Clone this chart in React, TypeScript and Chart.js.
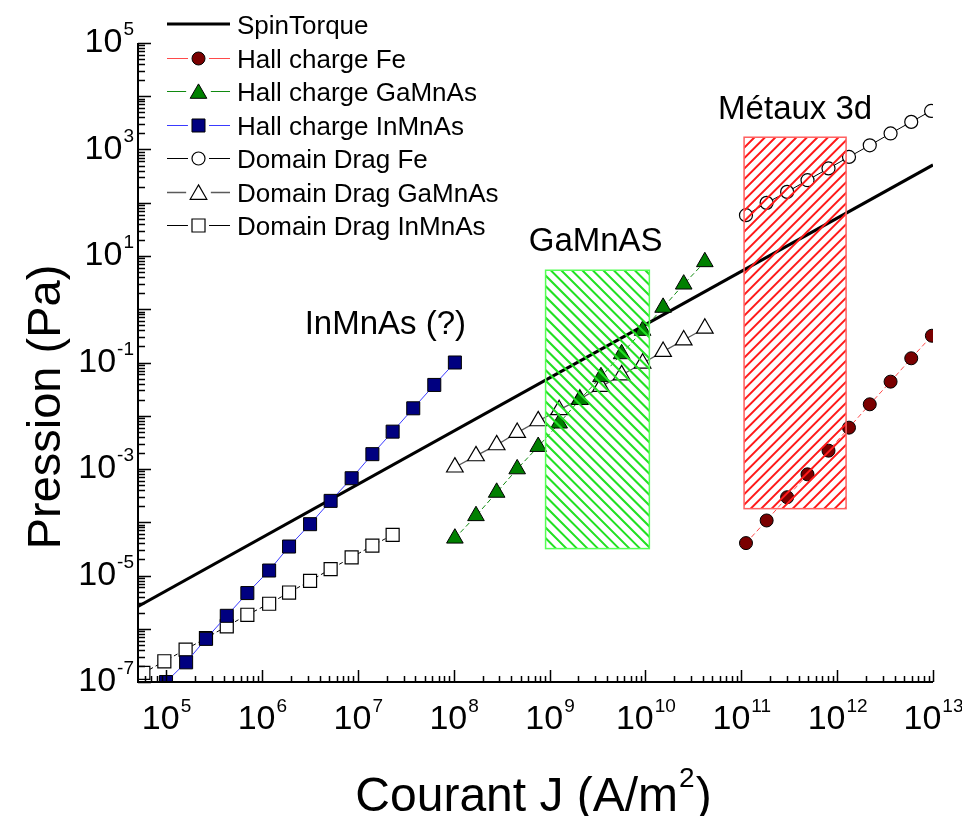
import React, { useEffect, useRef } from 'react';
import { Chart, registerables } from 'chart.js';

Chart.register(...registerables);

// ---------- data ----------
const spinTorqueJ = [5.1e4, 1e13];
const spinTorqueP = [2.62e-6, 513];

const hallFeJ = [1.12e11, 1.84e11, 3.01e11, 4.91e11, 8.13e11, 1.33e12, 2.19e12, 3.61e12, 5.93e12, 9.73e12];
const hallFeP = [4.06e-5, 1.08e-4, 2.95e-4, 7.94e-4, 2.21e-3, 5.98e-3, 1.64e-2, 4.37e-2, 0.12, 0.318];

const hallGaJ = [1.03e8, 1.71e8, 2.81e8, 4.6e8, 7.62e8, 1.26e9, 2.07e9, 3.44e9, 5.65e9, 9.35e9, 1.53e10, 2.51e10, 4.17e10];
const hallGaP = [5.0e-5, 1.32e-4, 3.63e-4, 1.0e-3, 2.63e-3, 7.24e-3, 2.0e-2, 5.37e-2, 0.145, 0.398, 1.08, 2.95, 7.76];

const hallInJ = [1e5, 1.62e5, 2.61e5, 4.3e5, 7.05e5, 1.19e6, 1.92e6, 3.18e6, 5.21e6, 8.63e6, 1.42e7, 2.31e7, 3.79e7, 6.28e7, 1.03e8];
const hallInP = [1e-7, 2.34e-7, 6.46e-7, 1.75e-6, 4.68e-6, 1.24e-5, 3.5e-5, 9.2e-5, 2.52e-4, 6.71e-4, 1.9e-3, 5.03e-3, 1.38e-2, 3.79e-2, 0.1];

const ddFeJ = [1.12e11, 1.84e11, 3.01e11, 4.91e11, 8.13e11, 1.33e12, 2.19e12, 3.61e12, 5.93e12, 9.55e12];
const ddFeP = [58.5, 99.5, 160, 265, 441, 726, 1200, 2000, 3300, 5300];

const ddGaJ = [1.03e8, 1.71e8, 2.81e8, 4.6e8, 7.62e8, 1.26e9, 2.07e9, 3.44e9, 5.65e9, 9.35e9, 1.53e10, 2.51e10, 4.17e10];
const ddGaP = [1.08e-3, 1.76e-3, 2.83e-3, 4.82e-3, 7.98e-3, 1.29e-2, 2.04e-2, 3.52e-2, 5.83e-2, 9.66e-2, 0.16, 0.264, 0.439];

const ddInJ = [5.8e4, 9.6e4, 1.6e5, 2.61e5, 4.3e5, 7.05e5, 1.19e6, 1.92e6, 3.18e6, 5.21e6, 8.63e6, 1.42e7, 2.31e7];
const ddInP = [1.48e-7, 2.45e-7, 4.07e-7, 6.68e-7, 1.11e-6, 1.83e-6, 2.95e-6, 4.79e-6, 7.94e-6, 1.32e-5, 2.19e-5, 3.63e-5, 5.81e-5];

const xMin = 5.1e4;
const xMax = 1e13;
const yMin = 1e-7;
const yMax = 1e5;
const xTickExponents = [5, 6, 7, 8, 9, 10, 11, 12, 13];
const yTickExponents = [5, 3, 1, -1, -3, -5, -7];

const greenBoxJ = [9.1e8, 1.1e10];
const greenBoxP = [3.2e-5, 5.4];
const redBoxJ = [1.07e11, 1.24e12];
const redBoxP = [1.8e-4, 1.7e3];

const annotationTexts = ['InMnAs (?)', 'GaMnAS', 'Métaux 3d'];
const annotationJ = [1.94e7, 3.03e9, 3.65e11];
const annotationP = [0.5, 18.2, 5460];

const legendLabels = [
  'SpinTorque',
  'Hall charge Fe',
  'Hall charge GaMnAs',
  'Hall charge InMnAs',
  'Domain Drag Fe',
  'Domain Drag GaMnAs',
  'Domain Drag InMnAs',
];

const xTitle = 'Courant J (A/m';
const xTitleSup = '2';
const yTitle = 'Pression (Pa)';

const FONT = '"Liberation Sans", Arial, sans-serif';

function pts(xs: number[], ys: number[]) {
  return xs.map((x, i) => ({ x, y: ys[i] }));
}

type Style = {
  line: string;
  lineWidth: number;
  dash: number[];
  marker: string | null;
  radius: number;
  fill: string;
  edge: string;
  edgeWidth: number;
};

const styles: Style[] = [
  { line: '#000000', lineWidth: 3, dash: [], marker: null, radius: 0, fill: '#000', edge: '#000', edgeWidth: 0 },
  { line: '#ff4a4a', lineWidth: 1, dash: [5, 3], marker: 'circle', radius: 6.5, fill: '#7a0000', edge: '#000', edgeWidth: 1 },
  { line: '#108a10', lineWidth: 1, dash: [5, 3], marker: 'triangle', radius: 9.6, fill: '#008000', edge: '#000', edgeWidth: 1 },
  { line: '#3a3aff', lineWidth: 1, dash: [], marker: 'rect', radius: 9.2, fill: '#000080', edge: '#000', edgeWidth: 1 },
  { line: '#000000', lineWidth: 1, dash: [], marker: 'circle', radius: 6.5, fill: '#ffffff', edge: '#000', edgeWidth: 1.2 },
  { line: '#5a5a5a', lineWidth: 1.3, dash: [], marker: 'triangle', radius: 9.6, fill: '#ffffff', edge: '#000', edgeWidth: 1.2 },
  { line: '#000000', lineWidth: 1, dash: [4, 3], marker: 'rect', radius: 9.2, fill: '#ffffff', edge: '#000', edgeWidth: 1.2 },
];

function drawMarker(ctx: CanvasRenderingContext2D, st: Style, x: number, y: number) {
  if (!st.marker) return;
  const r = st.radius;
  ctx.save();
  ctx.setLineDash([]);
  ctx.beginPath();
  if (st.marker === 'circle') {
    ctx.arc(x, y, r, 0, Math.PI * 2);
  } else if (st.marker === 'rect') {
    const s = Math.SQRT1_2 * r;
    ctx.rect(x - s, y - s, 2 * s, 2 * s);
  } else {
    let a = 0;
    ctx.moveTo(x + Math.sin(a) * r, y - Math.cos(a) * r);
    a += (2 * Math.PI) / 3;
    ctx.lineTo(x + Math.sin(a) * r, y - Math.cos(a) * r);
    a += (2 * Math.PI) / 3;
    ctx.lineTo(x + Math.sin(a) * r, y - Math.cos(a) * r);
    ctx.closePath();
  }
  ctx.fillStyle = st.fill;
  ctx.fill();
  ctx.lineWidth = st.edgeWidth;
  ctx.strokeStyle = st.edge;
  ctx.stroke();
  ctx.restore();
}

const overlayPlugin = {
  id: 'overlay',
  afterDatasetsDraw(chart: any) {
    const ctx: CanvasRenderingContext2D = chart.ctx;
    const xs = chart.scales.x;
    const ys = chart.scales.y;
    const area = chart.chartArea;

    // hatched boxes
    const boxes = [
      { J: greenBoxJ, P: greenBoxP, hatch: '#22e022', border: '#55ff55', dir: -1 },
      { J: redBoxJ, P: redBoxP, hatch: '#ff1a1a', border: '#ff6060', dir: 1 },
    ];
    boxes.forEach((b) => {
      const l = xs.getPixelForValue(b.J[0]);
      const r = xs.getPixelForValue(b.J[1]);
      const t = ys.getPixelForValue(b.P[1]);
      const bt = ys.getPixelForValue(b.P[0]);
      const h = bt - t;
      ctx.save();
      ctx.beginPath();
      ctx.rect(l, t, r - l, h);
      ctx.clip();
      ctx.strokeStyle = b.hatch;
      ctx.lineWidth = 2;
      ctx.beginPath();
      const step = 10.5;
      for (let c = l - h - step; c < r + h + step; c += step) {
        if (b.dir < 0) {
          ctx.moveTo(c, t);
          ctx.lineTo(c + h, t + h);
        } else {
          ctx.moveTo(c, bt);
          ctx.lineTo(c + h, bt - h);
        }
      }
      ctx.stroke();
      ctx.restore();
      ctx.save();
      ctx.strokeStyle = b.border;
      ctx.lineWidth = 1.5;
      ctx.strokeRect(l, t, r - l, h);
      ctx.restore();
    });

    // axes
    ctx.save();
    ctx.strokeStyle = '#000';
    ctx.lineWidth = 2;
    ctx.beginPath();
    ctx.moveTo(area.left, area.top);
    ctx.lineTo(area.left, area.bottom);
    ctx.lineTo(area.right, area.bottom);
    ctx.stroke();

    ctx.lineWidth = 1.5;
    ctx.beginPath();
    // x ticks
    for (let e = 4; e <= 13; e++) {
      for (let m = 1; m <= 9; m++) {
        const v = m * Math.pow(10, e);
        if (v < xMin * 0.999 || v > xMax * 1.001) continue;
        const px = Math.round(xs.getPixelForValue(v)) + 0.5;
        const len = m === 1 ? 12 : 6;
        ctx.moveTo(px, area.bottom);
        ctx.lineTo(px, area.bottom - len);
      }
    }
    // y ticks
    for (let e = -7; e <= 5; e++) {
      for (let m = 1; m <= 9; m++) {
        const v = m * Math.pow(10, e);
        if (v < yMin * 0.999 || v > yMax * 1.001) continue;
        const py = Math.round(ys.getPixelForValue(v)) + 0.5;
        const len = m === 1 ? 13 : 7;
        ctx.moveTo(area.left, py);
        ctx.lineTo(area.left + len, py);
      }
    }
    ctx.stroke();

    // tick labels
    ctx.fillStyle = '#000';
    ctx.textBaseline = 'alphabetic';
    const baseFont = `34px ${FONT}`;
    const supFont = `19px ${FONT}`;
    xTickExponents.forEach((e) => {
      const px = xs.getPixelForValue(Math.pow(10, e));
      const sup = String(e);
      ctx.font = baseFont;
      const bw = ctx.measureText('10').width;
      ctx.font = supFont;
      const sw = ctx.measureText(sup).width;
      const x0 = px - (bw + sw) / 2;
      ctx.font = baseFont;
      ctx.textAlign = 'left';
      ctx.fillText('10', x0, area.bottom + 47);
      ctx.font = supFont;
      ctx.fillText(sup, x0 + bw + 1, area.bottom + 30);
    });
    yTickExponents.forEach((e) => {
      const py = ys.getPixelForValue(Math.pow(10, e));
      const sup = String(e);
      ctx.font = supFont;
      const sw = ctx.measureText(sup).width;
      ctx.font = baseFont;
      const bw = ctx.measureText('10').width;
      const right = area.left - 4;
      ctx.textAlign = 'left';
      ctx.fillText('10', right - sw - bw - 1, py + 9);
      ctx.font = supFont;
      ctx.fillText(sup, right - sw, py - 8);
    });

    // axis titles
    ctx.font = `48px ${FONT}`;
    const tw = ctx.measureText(xTitle).width;
    ctx.font = `28px ${FONT}`;
    const t2w = ctx.measureText(xTitleSup).width;
    ctx.font = `48px ${FONT}`;
    const t3w = ctx.measureText(')').width;
    const cx = (area.left + area.right) / 2 - 3;
    let tx = cx - (tw + t2w + t3w) / 2;
    ctx.fillText(xTitle, tx, 811);
    ctx.font = `28px ${FONT}`;
    ctx.fillText(xTitleSup, tx + tw + 1, 787);
    ctx.font = `48px ${FONT}`;
    ctx.fillText(')', tx + tw + t2w + 2, 811);

    ctx.save();
    ctx.translate(60, 407);
    ctx.rotate(-Math.PI / 2);
    ctx.font = `47px ${FONT}`;
    ctx.textAlign = 'center';
    ctx.fillText(yTitle, 0, 0);
    ctx.restore();

    // annotations
    ctx.font = `33px ${FONT}`;
    ctx.textAlign = 'center';
    ctx.textBaseline = 'middle';
    annotationTexts.forEach((txt, i) => {
      ctx.fillText(txt, xs.getPixelForValue(annotationJ[i]), ys.getPixelForValue(annotationP[i]));
    });

    // legend
    const lx0 = 167;
    const lx1 = 230;
    const lmid = 198.5;
    const ly0 = 24;
    const lstep = 33.5;
    legendLabels.forEach((lab, i) => {
      const st = styles[i];
      const y = Math.round(ly0 + i * lstep) + (st.lineWidth === 3 ? 0 : 0.5);
      ctx.save();
      ctx.strokeStyle = st.line;
      ctx.lineWidth = st.lineWidth;
      ctx.setLineDash([]);
      ctx.beginPath();
      if (st.marker) {
        const gap = st.radius * (st.marker === 'rect' ? 0.71 : st.marker === 'triangle' ? 0.87 : 1) + 4;
        ctx.moveTo(lx0, y);
        ctx.lineTo(lmid - gap, y);
        ctx.moveTo(lmid + gap, y);
        ctx.lineTo(lx1, y);
      } else {
        ctx.moveTo(lx0, y);
        ctx.lineTo(lx1, y);
      }
      ctx.stroke();
      ctx.restore();
      drawMarker(ctx, st, lmid, y + (st.marker === 'triangle' ? 2 : 0));
      ctx.fillStyle = '#000';
      ctx.font = `26px ${FONT}`;
      ctx.textAlign = 'left';
      ctx.textBaseline = 'alphabetic';
      ctx.fillText(lab, 237, y + 9.5);
    });
    ctx.restore();
  },
};

export default function App() {
  const ref = useRef<HTMLCanvasElement | null>(null);
  useEffect(() => {
    if (!ref.current) return;
    const series = [
      pts(spinTorqueJ, spinTorqueP),
      pts(hallFeJ, hallFeP),
      pts(hallGaJ, hallGaP),
      pts(hallInJ, hallInP),
      pts(ddFeJ, ddFeP),
      pts(ddGaJ, ddGaP),
      pts(ddInJ, ddInP),
    ];
    const datasets = series.map((data, i) => {
      const st = styles[i];
      return {
        label: legendLabels[i],
        data,
        showLine: true,
        borderColor: st.line,
        borderWidth: st.lineWidth,
        borderDash: st.dash,
        pointStyle: st.marker || 'circle',
        pointRadius: st.marker ? st.radius : 0,
        pointBackgroundColor: st.fill,
        pointBorderColor: st.edge,
        pointBorderWidth: st.edgeWidth,
        backgroundColor: st.fill,
        tension: 0,
        clip: 0,
        order: i === 0 ? 10 : 0,
      };
    });
    const chart = new Chart(ref.current, {
      type: 'scatter',
      data: { datasets },
      options: {
        animation: false,
        responsive: false,
        devicePixelRatio: 1,
        layout: { padding: { left: 138, right: 29, top: 43, bottom: 134 } },
        scales: {
          x: { type: 'logarithmic', min: xMin, max: xMax, display: false },
          y: { type: 'logarithmic', min: yMin, max: yMax, display: false },
        },
        plugins: { legend: { display: false }, tooltip: { enabled: false } },
        events: [],
      },
      plugins: [overlayPlugin],
    } as any);
    return () => chart.destroy();
  }, []);
  return (
    <div style={{ position: 'fixed', left: 0, top: 0, width: 962, height: 816, background: '#ffffff' }}>
      <canvas ref={ref} width={962} height={816} style={{ display: 'block' }} />
    </div>
  );
}
